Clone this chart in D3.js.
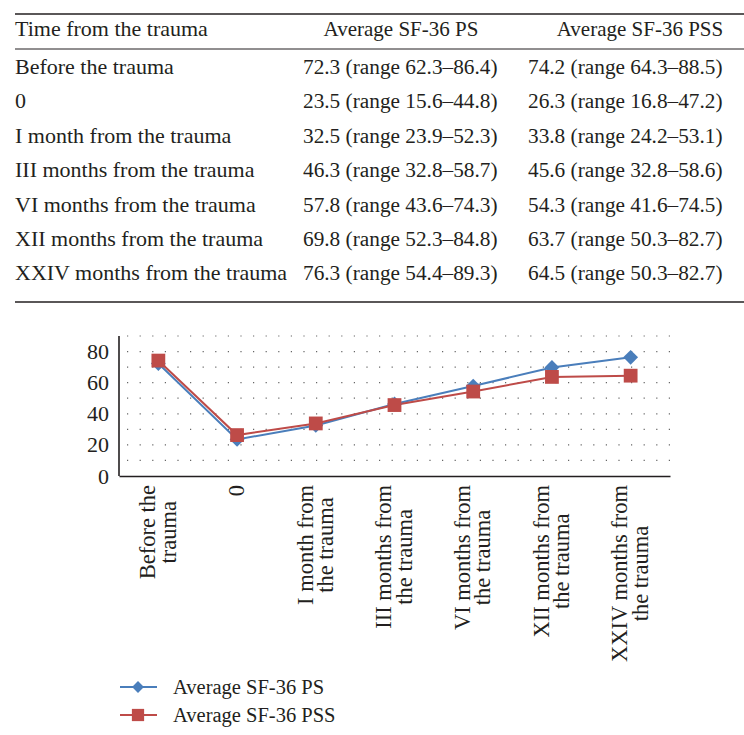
<!DOCTYPE html>
<html><head><meta charset="utf-8">
<script src="https://cdn.jsdelivr.net/npm/d3@7"></script>
<style>body{margin:0;background:#fff}svg{display:block}text{font-family:"Liberation Serif","Times New Roman",serif;fill:#231f20}</style>
</head><body><svg id="c" width="744" height="735"></svg>
<script>
const tableHeaders = ["Time from the trauma", "Average SF-36 PS", "Average SF-36 PSS"];
const categories = ["Before the trauma", "0", "I month from the trauma", "III months from the trauma", "VI months from the trauma", "XII months from the trauma", "XXIV months from the trauma"];
const axisLabels = [["Before the", "trauma"], ["0"], ["I month from", "the trauma"], ["III months from", "the trauma"], ["VI months from", "the trauma"], ["XII months from", "the trauma"], ["XXIV months from", "the trauma"]];
const psValues = [72.3, 23.5, 32.5, 46.3, 57.8, 69.8, 76.3];
const psRanges = ["62.3–86.4", "15.6–44.8", "23.9–52.3", "32.8–58.7", "43.6–74.3", "52.3–84.8", "54.4–89.3"];
const pssValues = [74.2, 26.3, 33.8, 45.6, 54.3, 63.7, 64.5];
const pssRanges = ["64.3–88.5", "16.8–47.2", "24.2–53.1", "32.8–58.6", "41.6–74.5", "50.3–82.7", "50.3–82.7"];
const yTicks = [0, 20, 40, 60, 80];
const seriesNames = ["Average SF-36 PS", "Average SF-36 PSS"];

const svg = d3.select("#c");
const ink = "#231f20";

// ---- table ----
const tbl = svg.append("g");
const col1 = 15, col2 = 303, col3 = 528, rowY0 = 74, rowStep = 34.4;
tbl.append("line").attr("x1", 15).attr("x2", 744).attr("y1", 14).attr("y2", 14).attr("stroke", ink).attr("stroke-width", 1.6);
tbl.append("line").attr("x1", 15).attr("x2", 744).attr("y1", 49).attr("y2", 49).attr("stroke", ink).attr("stroke-width", 1);
tbl.append("line").attr("x1", 15).attr("x2", 744).attr("y1", 302).attr("y2", 302).attr("stroke", ink).attr("stroke-width", 1.6);
tbl.append("text").attr("x", col1).attr("y", 36).style("font-size", "22px").text(tableHeaders[0]);
tbl.append("text").attr("x", 401).attr("y", 36).attr("text-anchor", "middle").style("font-size", "21px").text(tableHeaders[1]);
tbl.append("text").attr("x", 640).attr("y", 36).attr("text-anchor", "middle").style("font-size", "21px").text(tableHeaders[2]);
categories.forEach((c, i) => {
  const yy = rowY0 + i * rowStep;
  tbl.append("text").attr("x", col1).attr("y", yy).style("font-size", "22px").text(c);
  tbl.append("text").attr("x", col2).attr("y", yy).style("font-size", "21.3px").text(`${psValues[i].toFixed(1)} (range ${psRanges[i]})`);
  tbl.append("text").attr("x", col3).attr("y", yy).style("font-size", "21.3px").text(`${pssValues[i].toFixed(1)} (range ${pssRanges[i]})`);
});

// ---- chart ----
const pLeft = 119, pRight = 670, pTop = 336, pBottom = 476;
const x = d3.scaleBand().domain(categories).range([pLeft, pRight]);
const y = d3.scaleLinear().domain([0, 90]).range([pBottom, pTop]);
const cx = d => x(d) + x.bandwidth() / 2;

const grid = svg.append("g");
d3.range(10, 100, 10).forEach(v => {
  grid.append("line").attr("x1", pLeft + 8).attr("x2", pRight).attr("y1", y(v)).attr("y2", y(v))
    .attr("stroke", "#666").attr("stroke-width", 1.2).attr("stroke-dasharray", "1.2,11.4");
});

const yAxis = svg.append("g").attr("transform", `translate(${pLeft},0)`)
  .call(d3.axisLeft(y).tickValues(yTicks).tickSize(0).tickPadding(10));
yAxis.select(".domain").attr("d", `M0,${pTop}V${pBottom}`).attr("stroke", ink).attr("stroke-width", 1.6);
yAxis.selectAll("text").style("font-size", "22px").style("font-family", "Liberation Serif").attr("fill", ink);

const xAxis = svg.append("g").attr("transform", `translate(0,${pBottom})`)
  .call(d3.axisBottom(x).tickSize(0).tickFormat(""));
xAxis.select(".domain").attr("stroke", ink).attr("stroke-width", 1.6);

const lab = svg.append("g");
const labFs = 22.5, labLh = 20.5;
categories.forEach((c, i) => {
  const lines = axisLabels[i];
  const g = lab.append("g").attr("transform", `translate(${cx(c)},${pBottom + 9}) rotate(-90)`);
  const n = lines.length;
  const ts = lines.map((l, j) => g.append("text").attr("text-anchor", "middle").style("font-size", labFs + "px")
    .attr("y", (j - (n - 1) / 2) * labLh + 7).text(l));
  const maxLen = d3.max(ts, t => t.node().getComputedTextLength());
  ts.forEach(t => t.attr("x", -maxLen / 2));
});

const colors = ["#4a7ebb", "#be4b48"];
const line = d3.line().x(d => cx(d.c)).y(d => y(d.v));
const series = [psValues, pssValues].map((vals) => vals.map((v, i) => ({c: categories[i], v})));

series.forEach((s, k) => {
  svg.append("path").datum(s).attr("d", line).attr("fill", "none").attr("stroke", colors[k]).attr("stroke-width", 2);
});
svg.append("g").selectAll("path").data(series[0]).join("path")
  .attr("transform", d => `translate(${cx(d.c)},${y(d.v)}) rotate(45)`).attr("d", d3.symbol().type(d3.symbolSquare).size(110)).attr("fill", colors[0]);
svg.append("g").selectAll("path").data(series[1]).join("path")
  .attr("transform", d => `translate(${cx(d.c)},${y(d.v)})`).attr("d", d3.symbol().type(d3.symbolSquare).size(190)).attr("fill", colors[1]);

// ---- legend ----
const lg = svg.append("g");
[0, 1].forEach(k => {
  const ly = 687 + k * 28;
  lg.append("line").attr("x1", 120).attr("x2", 157).attr("y1", ly).attr("y2", ly).attr("stroke", colors[k]).attr("stroke-width", 2);
  lg.append("path").attr("transform", `translate(138,${ly})` + (k === 0 ? " rotate(45)" : ""))
    .attr("d", d3.symbol().type(d3.symbolSquare).size(k === 0 ? 70 : 150)).attr("fill", colors[k]);
  lg.append("text").attr("x", 173).attr("y", ly + 7).style("font-size", "20.5px").text(seriesNames[k]);
});
</script></body></html>
